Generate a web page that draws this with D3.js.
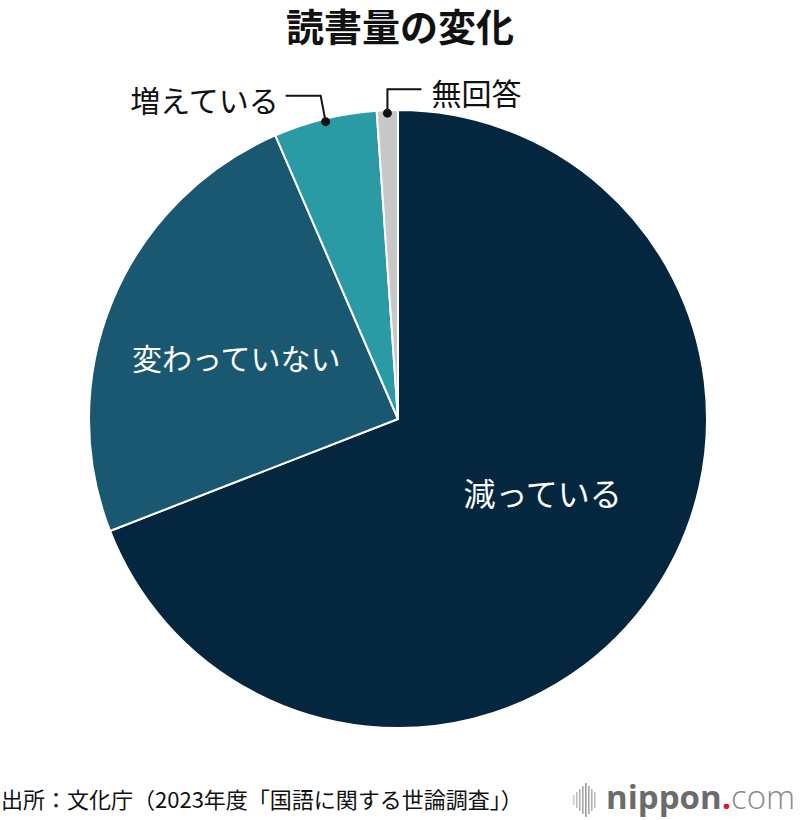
<!DOCTYPE html>
<html>
<head>
<meta charset="utf-8">
<script src="https://cdn.jsdelivr.net/npm/d3@7"></script>
<style>
  body { margin: 0; background: #fff; }
  svg { display: block; font-family: "Noto Sans CJK JP", "Noto Sans", sans-serif; }
</style>
</head>
<body>
<svg id="chart" width="800" height="820"></svg>
<script>
const categories = ["減っている", "変わっていない", "増えている", "無回答"]
const values = [69.1, 24.4, 5.4, 1.1]
const colors = ["#04273f", "#1a5771", "#2a9aa5", "#c8c8c8"]
const title = "読書量の変化"
const source = "出所：文化庁（2023年度「国語に関する世論調査」）"
const logoBars = [10, 16, 22, 28, 34, 28, 22, 16]

const config = {
  "w": 800,
  "h": 820,
  "cx": 398,
  "cy": 419,
  "r": 309,
}

const svg = d3.select("#chart")

// title
svg.append("text")
   .attr("x", config["w"] / 2)
   .attr("y", 41)
   .attr("text-anchor", "middle")
   .style("font-size", "38px")
   .style("font-weight", "700")
   .style("fill", "#111")
   .text(title)

const pie = d3.pie().sort(null).value(d => d)
const arcs = pie(values)

const arc = d3.arc().innerRadius(0).outerRadius(config["r"])

const g = svg.append("g")
             .attr("transform", "translate(" + config["cx"] + "," + config["cy"] + ")")

g.selectAll("path")
 .data(arcs)
 .enter()
 .append("path")
 .attr("d", arc)
 .attr("fill", (d, i) => colors[i])
 .attr("stroke", "#fff")
 .attr("stroke-width", 2)
 .attr("stroke-linejoin", "round")

// labels inside the big slices
const inside = [
  { "i": 0, "k": 0.52, "dx": 12, "dy": -18, "size": 32 },
  { "i": 1, "k": 0.56, "dx": -2, "dy": 5, "size": 30 },
]
inside.forEach(lb => {
  const a = arcs[lb.i]
  const mid = (a.startAngle + a.endAngle) / 2
  const rr = config["r"] * lb.k
  g.append("text")
   .attr("x", Math.sin(mid) * rr + lb.dx)
   .attr("y", -Math.cos(mid) * rr + lb.dy)
   .attr("text-anchor", "middle")
   .attr("dominant-baseline", "central")
   .style("font-size", lb.size + "px")
   .style("fill", "#fff")
   .text(categories[lb.i])
})

// labels outside with leader lines
const outside = [
  { "i": 2, "up": 26, "side": -5, "len": -35, "anchor": "end" },
  { "i": 3, "up": 24, "side": 0, "len": 34, "anchor": "start" },
]
outside.forEach(lb => {
  const a = arcs[lb.i]
  const mid = (a.startAngle + a.endAngle) / 2
  const rr = config["r"] - 3
  const px = Math.sin(mid) * rr
  const py = -Math.cos(mid) * rr
  const ex = px + lb.side
  const ey = py - lb.up
  const tx = ex + lb.len
  g.append("path")
   .attr("d", d3.line()([[px, py], [ex, ey], [tx, ey]]))
   .attr("fill", "none")
   .attr("stroke", "#111")
   .attr("stroke-width", 2)
  g.append("circle")
   .attr("cx", px)
   .attr("cy", py)
   .attr("r", 4.5)
   .attr("fill", "#111")
  g.append("text")
   .attr("x", tx + (lb.anchor == "end" ? -7 : 10))
   .attr("y", ey + 3)
   .attr("text-anchor", lb.anchor)
   .attr("dominant-baseline", "central")
   .style("font-size", "30px")
   .style("fill", "#111")
   .text(categories[lb.i])
})

// source
svg.append("text")
   .attr("x", 1)
   .attr("y", 808)
   .style("font-size", "22px")
   .style("fill", "#111")
   .text(source)

// logo
const logo = svg.append("g").attr("transform", "translate(573,800)")
logo.selectAll("rect")
    .data(logoBars)
    .enter()
    .append("rect")
    .attr("x", (d, i) => i * 3)
    .attr("y", d => -d / 2)
    .attr("width", 1.6)
    .attr("height", d => d)
    .attr("fill", (d, i) => d3.interpolateRgb("#e0e0e0", "#9a9a9a")(d / 34))

const logoText = logo.append("text")
    .attr("x", 33)
    .attr("y", 9)
    .style("font-family", "'Open Sans', 'DejaVu Sans', sans-serif")
    .style("font-size", "33px")
logoText.append("tspan").text("nippon").style("font-weight", "700").style("fill", "#6b6b6b")
logoText.append("tspan").text(".").style("font-weight", "700").style("fill", "#e4151f")
logoText.append("tspan").text("com").style("font-weight", "300").style("fill", "#8a8a8a")
</script>
</body>
</html>
